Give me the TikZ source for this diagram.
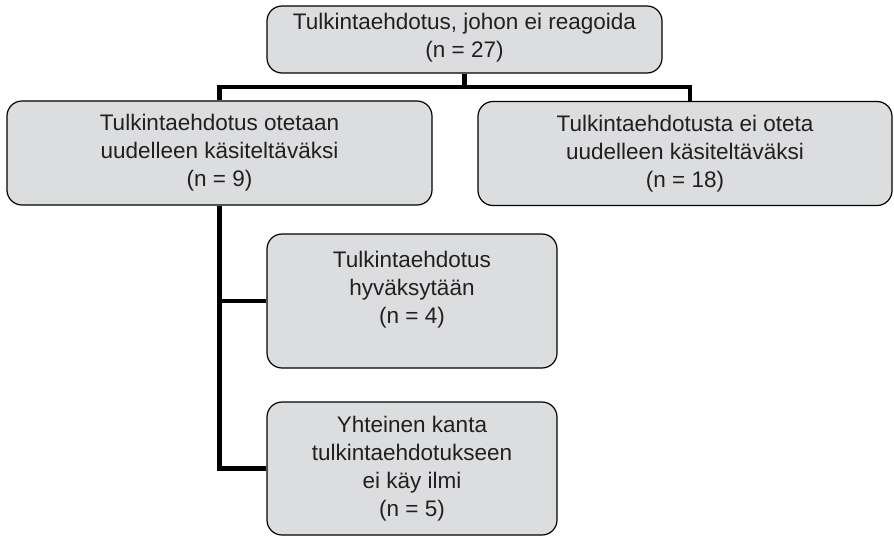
\documentclass[tikz,border=0pt]{standalone}
\usepackage{fontspec}
\setmainfont{Liberation Sans}
\usepackage{xcolor}
\usepackage{tikz}

\definecolor{harmaa}{HTML}{DCDDDE}
\definecolor{teksti}{HTML}{231F20}

\begin{document}
\begin{tikzpicture}[x=1pt, y=-1pt,
		    every node/.style={draw, rounded corners=15pt, fill=harmaa, text=teksti,
		        align=center, inner sep=0pt, line width=1.2pt,
		        font=\fontsize{22.5}{28}\selectfont}
		]
		\tikzset{
		    viiva/.style={line width=4.5pt, draw=black},
		    leveä/.style={minimum width=#1pt, minimum height=104pt}
		}
		\useasboundingbox (0,0) rectangle (894,536);
		\node[minimum width=395pt, minimum height=67pt, text depth=8pt] (juuri) at (464.5,39.5)
		  {Tulkintaehdotus, johon ei reagoida\\(n = 27)};
		\node[leveä=425] (otetaan) at (219.5,153)
		  {Tulkintaehdotus otetaan\\uudelleen käsiteltäväksi\\(n = 9)};
		\node[leveä=414] (eiOteta) at (685,153.5)
		  {Tulkintaehdotusta ei oteta\\uudelleen käsiteltäväksi\\(n = 18)};
		\node[minimum width=290pt, minimum height=134pt] (hyvaksytaan) at (412,301)
		  {Tulkintaehdotus\\hyväksytään\\(n = 4)\\\mbox{}};
		\node[minimum width=290pt, minimum height=133pt] (eiIlmi) at (412,468.5)
		  {Yhteinen kanta\\tulkintaehdotukseen\\ei käy ilmi\\(n = 5)};
		\coordinate (haara) at (464.5,87);
		\draw[viiva] (juuri.south) -- (haara);
		\draw[viiva] (otetaan.north) |- (haara) -| ([xshift=5pt]eiOteta.north);
		\draw[viiva] (otetaan.south) |- (hyvaksytaan.west);
		\draw[viiva] (otetaan.south) |- (eiIlmi.west);
		\end{tikzpicture}
\end{document}
